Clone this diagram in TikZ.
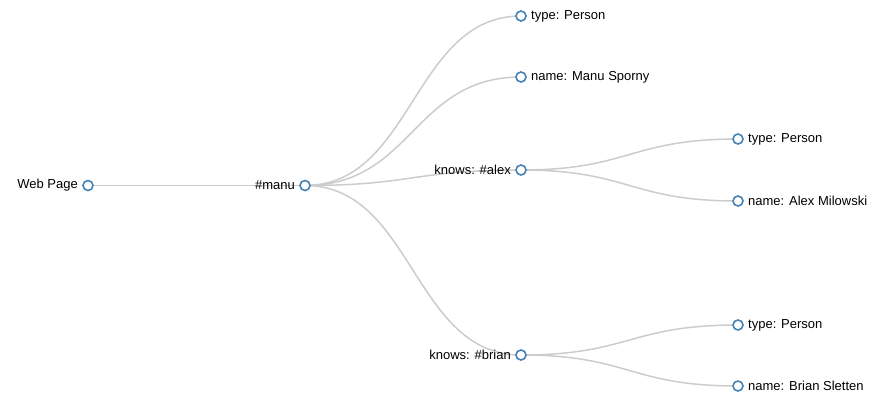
\documentclass[tikz,border=0pt]{standalone}
\usepackage{fontspec}
\setmainfont{Liberation Sans}
\definecolor{linkc}{HTML}{CCCCCC}
\definecolor{steel}{HTML}{4682B4}
\tikzset{
  link/.style={draw=linkc, line width=1.5pt},
  dot/.style={circle, draw=steel, fill=white, line width=1.6pt, minimum size=10pt, inner sep=0pt},
  lbl/.style={inner sep=0pt, font=\fontsize{13}{15}\selectfont, text=black},
  lleft/.style={lbl, anchor=east, xshift=-10pt},
  lright/.style={lbl, anchor=west, xshift=10pt}
}
\begin{document}
\begin{tikzpicture}[x=1pt,y=-1pt]
\useasboundingbox (0,0) rectangle (885,394);
\coordinate (r) at (88,185.5);
\coordinate (m) at (305,185.5);
\coordinate (t1) at (521,16);
\coordinate (n1) at (521,77);
\coordinate (a) at (521,170);
\coordinate (b) at (521,355);
\coordinate (at) at (738,139);
\coordinate (an) at (738,201);
\coordinate (bt) at (738,325);
\coordinate (bn) at (738,386);
% links
\draw[link] (r) -- (m);
\draw[link] (m) .. controls (413,185.5) and (413,16) .. (t1);
\draw[link] (m) .. controls (413,185.5) and (413,77) .. (n1);
\draw[link] (m) .. controls (413,185.5) and (413,170) .. (a);
\draw[link] (m) .. controls (413,185.5) and (413,355) .. (b);
\draw[link] (a) .. controls (629.5,170) and (629.5,139) .. (at);
\draw[link] (a) .. controls (629.5,170) and (629.5,201) .. (an);
\draw[link] (b) .. controls (629.5,355) and (629.5,325) .. (bt);
\draw[link] (b) .. controls (629.5,355) and (629.5,386) .. (bn);
% nodes
\node[dot] (rd) at (r) {};
\node[dot] (md) at (m) {};
\node[dot] (t1d) at (t1) {};
\node[dot] (n1d) at (n1) {};
\node[dot] (ad) at (a) {};
\node[dot] (bd) at (b) {};
\node[dot] (atd) at (at) {};
\node[dot] (and) at (an) {};
\node[dot] (btd) at (bt) {};
\node[dot] (bnd) at (bn) {};
% labels
\node[lleft] (rl) at (r) {Web Page};
\node[lleft] (ml) at (m) {\#manu};
\node[lright] (t1l) at (t1) {type: Person};
\node[lright] (n1l) at (n1) {name: Manu Sporny};
\node[lleft] (al) at (a) {knows: \#alex};
\node[lleft] (bl) at (b) {knows: \#brian};
\node[lright] (atl) at (at) {type: Person};
\node[lright] (anl) at (an) {name: Alex Milowski};
\node[lright] (btl) at (bt) {type: Person};
\node[lright] (bnl) at (bn) {name: Brian Sletten};
\end{tikzpicture}
\end{document}
